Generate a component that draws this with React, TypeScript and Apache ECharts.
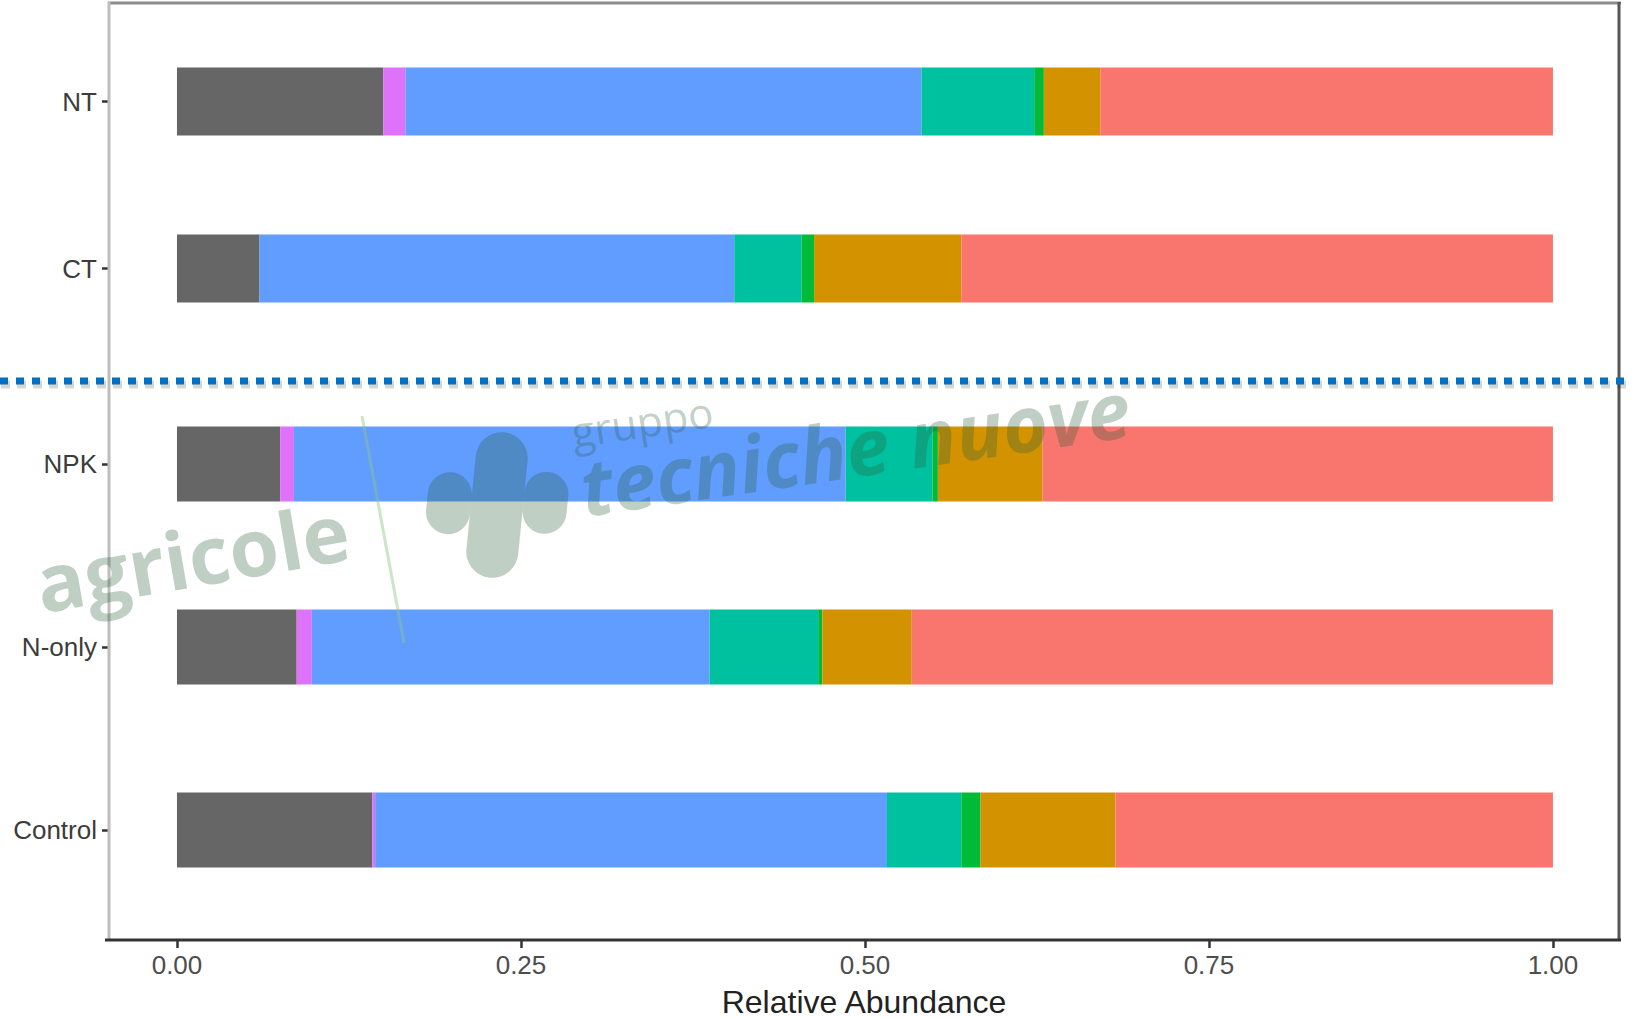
import React, { useEffect, useRef } from "react";
import * as echarts from "echarts";

// Categories (bottom to top)
const categories = ["Control", "N-only", "NPK", "CT", "NT"];
const bottomCats = categories.slice(0, 3);
const topCats = categories.slice(3);

// Relative abundance per taxon group, in category order
const greyVals = [0.142, 0.087, 0.075, 0.06, 0.15];
const magentaVals = [0.002, 0.011, 0.01, 0.0, 0.016];
const blueVals = [0.372, 0.289, 0.401, 0.345, 0.375];
const tealVals = [0.054, 0.079, 0.063, 0.049, 0.082];
const greenVals = [0.014, 0.003, 0.004, 0.009, 0.007];
const orangeVals = [0.098, 0.065, 0.076, 0.107, 0.041];
const redVals = [0.318, 0.466, 0.371, 0.43, 0.329];

const xTicks = [0, 0.25, 0.5, 0.75, 1];
// panel expansion around the 0..1 data range (ggplot-style padding)
const xMin = -0.0494;
const xMax = 1.048;

const groups = [
  { name: "Others", color: "#666666", values: greyVals },
  { name: "Group 1", color: "#DE72F8", values: magentaVals },
  { name: "Group 2", color: "#619CFF", values: blueVals },
  { name: "Group 3", color: "#00C19F", values: tealVals },
  { name: "Group 4", color: "#00BA38", values: greenVals },
  { name: "Group 5", color: "#D39200", values: orangeVals },
  { name: "Group 6", color: "#F8766D", values: redVals },
];

const labelFont = "'Liberation Sans', Arial, sans-serif";
const wmColor = "rgba(42,95,58,0.3)";

export default function App() {
  const ref = useRef<HTMLDivElement>(null);

  useEffect(() => {
    document.body.style.margin = "0";
    const chart = echarts.init(ref.current!, null, { renderer: "svg" });

    const series: any[] = [];
    groups.forEach((g) => {
      series.push({
        type: "bar",
        name: g.name,
        stack: "bottom",
        xAxisIndex: 0,
        yAxisIndex: 0,
        barWidth: 75,
        itemStyle: { color: g.color },
        data: g.values.slice(0, 3),
      });
      series.push({
        type: "bar",
        name: g.name,
        stack: "top",
        xAxisIndex: 1,
        yAxisIndex: 1,
        barWidth: 68,
        itemStyle: { color: g.color },
        data: g.values.slice(3),
      });
    });

    const yAxisCommon = {
      type: "category",
      axisLine: { show: false, onZero: false },
      axisTick: { show: true, length: 7, lineStyle: { color: "#333", width: 2.5 }, alignWithLabel: true },
      axisLabel: { fontFamily: labelFont, fontSize: 26, color: "#3c3c3c", margin: 12 },
      splitLine: { show: false },
    };

    const option: any = {
      animation: false,
      backgroundColor: "#ffffff",
      grid: [
        { left: 109, right: 13, top: 372.5, height: 549, outerBoundsMode: "none", containLabel: false },
        { left: 109, right: 13, top: 18, height: 334, outerBoundsMode: "none", containLabel: false },
      ],
      xAxis: [
        {
          type: "value",
          gridIndex: 0,
          min: xMin,
          max: xMax,
          offset: 18.5,
          name: "Relative Abundance",
          nameLocation: "middle",
          nameGap: 46,
          nameTextStyle: { fontFamily: labelFont, fontSize: 32, color: "#222" },
          axisLine: { show: false, onZero: false },
          axisTick: { show: true, length: 8, lineStyle: { color: "#333", width: 2.5 }, customValues: xTicks },
          axisLabel: {
            fontFamily: labelFont,
            fontSize: 26,
            color: "#4d4d4d",
            margin: 12,
            customValues: xTicks,
            formatter: (v: number) => v.toFixed(2),
          },
          splitLine: { show: false },
        },
        {
          type: "value",
          gridIndex: 1,
          min: xMin,
          max: xMax,
          show: false,
          splitLine: { show: false },
        },
      ],
      yAxis: [
        { ...yAxisCommon, gridIndex: 0, data: bottomCats },
        { ...yAxisCommon, gridIndex: 1, data: topCats },
      ],
      series,
      graphic: [
        // frame
        { type: "line", z: 50, shape: { x1: 108, y1: 3, x2: 1621, y2: 3 }, style: { stroke: "#8c8c8c", lineWidth: 3 } },
        { type: "line", z: 50, shape: { x1: 109, y1: 2, x2: 109, y2: 940 }, style: { stroke: "#bdbdbd", lineWidth: 3 } },
        { type: "line", z: 50, shape: { x1: 1619, y1: 2, x2: 1619, y2: 940 }, style: { stroke: "#555", lineWidth: 3 } },
        { type: "line", z: 50, shape: { x1: 105, y1: 940, x2: 1621, y2: 940 }, style: { stroke: "#333", lineWidth: 3 } },
        // dotted separator (soft shadow + blue squares)
        {
          type: "line",
          z: 59,
          shape: { x1: 1, y1: 384.5, x2: 1633, y2: 384.5 },
          style: { stroke: "rgba(0,0,0,0.16)", lineWidth: 8, lineDash: [9, 7] },
        },
        {
          type: "line",
          z: 60,
          shape: { x1: 0, y1: 381, x2: 1632, y2: 381 },
          style: { stroke: "#0070C0", lineWidth: 7, lineDash: [8, 8] },
        },
        // watermark
        {
          type: "line",
          z: 70,
          shape: { x1: 362, y1: 416, x2: 404, y2: 643 },
          style: { stroke: "rgba(140,200,130,0.45)", lineWidth: 3 },
        },
        {
          type: "text",
          z: 70,
          x: 192,
          y: 556,
          rotation: 0.172,
          style: {
            text: "agricole",
            fontFamily: "'Open Sans', sans-serif",
            fontWeight: "bold",
            fontSize: 80,
            fill: wmColor,
            align: "center",
            verticalAlign: "middle",
          },
        },
        {
          type: "text",
          z: 70,
          x: 642,
          y: 421,
          rotation: 0.15,
          style: {
            text: "gruppo",
            fontFamily: "'Open Sans', sans-serif",
            fontSize: 42,
            fill: wmColor,
            align: "center",
            verticalAlign: "middle",
          },
        },
        {
          type: "text",
          z: 70,
          x: 855,
          y: 447,
          rotation: 0.146,
          style: {
            text: "tecniche nuove",
            fontFamily: "'Open Sans', sans-serif",
            fontWeight: "bold",
            fontStyle: "italic",
            fontSize: 78,
            fill: wmColor,
            align: "center",
            verticalAlign: "middle",
          },
        },
        {
          type: "group",
          z: 70,
          x: 497,
          y: 505,
          rotation: -0.1,
          children: [
            { type: "rect", z: 70, shape: { x: -26, y: -73, width: 52, height: 146, r: 26 }, style: { fill: wmColor } },
            { type: "rect", z: 70, shape: { x: -70, y: -28, width: 44, height: 62, r: 22 }, style: { fill: wmColor } },
            { type: "rect", z: 70, shape: { x: 26, y: -38, width: 44, height: 62, r: 22 }, style: { fill: wmColor } },
          ],
        },
      ],
    };

    chart.setOption(option);
    return () => chart.dispose();
  }, []);

  return <div ref={ref} style={{ width: 1632, height: 1019 }} />;
}
